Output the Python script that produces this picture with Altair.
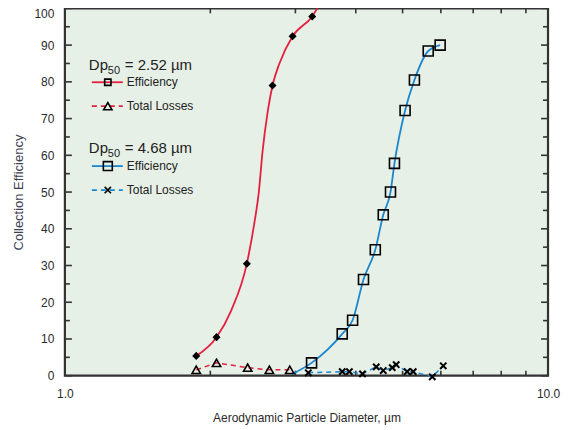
import altair as alt
import pandas as pd

FONT = "Liberation Sans"
RED = "#E3203F"
BLUE = "#1B87CF"

# ---- data ----
# Dp50 = 2.52 µm : efficiency points and fitted curve
red_eff_d = [1.87, 2.06, 2.38, 2.69, 2.96, 3.25]
red_eff_v = [5.4, 10.5, 30.5, 79.0, 92.4, 97.8]
red_fit_d = [1.87, 2.06, 2.21, 2.38, 2.47, 2.52, 2.565, 2.63, 2.69, 2.78, 2.96, 3.25, 3.33]
red_fit_v = [5.4, 10.5, 17.8, 30.5, 42.0, 50.0, 61.0, 72.0, 79.0, 85.0, 92.4, 97.8, 100.0]
red_loss_d = [1.87, 2.06, 2.39, 2.65, 2.92]
red_loss_v = [1.6, 3.5, 2.2, 1.6, 1.6]

# Dp50 = 4.68 µm : efficiency points and curve
blue_eff_d = [3.24, 3.75, 3.94, 4.15, 4.39, 4.56, 4.72, 4.81, 5.06, 5.29, 5.65, 5.98]
blue_eff_v = [3.5, 11.4, 15.1, 26.2, 34.3, 43.8, 50.0, 57.8, 72.2, 80.5, 88.4, 90.0]
blue_fit_d = [2.95, 3.24, 3.75, 3.94, 4.15, 4.39, 4.56, 4.72, 4.81, 5.06, 5.29, 5.65, 5.98]
blue_fit_v = [0.4, 3.5, 11.4, 15.1, 26.2, 34.3, 43.8, 50.0, 57.8, 72.2, 80.5, 88.4, 90.0]
blue_loss_d = [3.19, 3.75, 3.88, 4.13, 4.41, 4.56, 4.76, 4.85, 5.11, 5.26, 5.76, 6.07]
blue_loss_v = [0.8, 1.1, 1.1, 0.5, 2.4, 1.4, 2.2, 3.0, 1.1, 1.1, -0.3, 2.7]

# axis ticks
y_major = list(range(0, 101, 10))
y_minor = list(range(5, 100, 10))
x_labels = [1, 10]
x_minor = [2, 3, 4, 5, 6, 7, 8, 9]

# legend texts
legend_heads = ["2.52 µm", "4.68 µm"]
legend_items = ["Efficiency", "Total Losses", "Efficiency", "Total Losses"]

W, H = 484, 368

X = alt.X("d:Q", scale=alt.Scale(type="log", domain=[1, 10]),
          axis=alt.Axis(values=x_labels, format=".1f", tickSize=0, domain=False, grid=False,
                        labelPadding=13, titlePadding=13, labelFontSize=12, titleFontSize=12,
                        labelColor="#2a2a2a", titleColor="#2a2a2a", labelFont=FONT, titleFont=FONT,
                        titleFontWeight="normal", labelFlush=False),
          title="Aerodynamic Particle Diameter, µm")
Y = alt.Y("v:Q", scale=alt.Scale(domain=[0, 100]),
          axis=alt.Axis(values=y_major, tickSize=0, domain=False, grid=False,
                        labelPadding=11, titlePadding=8, labelFontSize=12, titleFontSize=13,
                        labelBaseline={"condition": {"test": "datum.value == 100", "value": "top"},
                                       "value": "middle"},
                        labelColor="#2a2a2a", titleColor="#3a4050", labelFont=FONT, titleFont=FONT,
                        titleFontWeight="normal"),
          title="Collection Efficiency")


def df(d, v):
    return pd.DataFrame({"d": d, "v": v})


red_fit = alt.Chart(df(red_fit_d, red_fit_v)).mark_line(
    color=RED, strokeWidth=1.8, interpolate="monotone").encode(x=X, y=Y, order="d:Q")
red_pts = alt.Chart(df(red_eff_d, red_eff_v)).mark_point(
    shape="diamond", filled=True, color="black", size=65, opacity=1).encode(x=X, y=Y)
red_loss_line = alt.Chart(df(red_loss_d, red_loss_v)).mark_line(
    color=RED, strokeWidth=1.5, strokeDash=[5, 4]).encode(x=X, y=Y)
red_loss_pts = alt.Chart(df(red_loss_d, red_loss_v)).mark_point(
    shape="triangle-up", color="black", strokeWidth=1.6, size=70, opacity=1).encode(x=X, y=Y)

blue_fit = alt.Chart(df(blue_fit_d, blue_fit_v)).mark_line(
    color=BLUE, strokeWidth=1.8, interpolate="monotone").encode(x=X, y=Y, order="d:Q")
blue_pts = alt.Chart(df(blue_eff_d, blue_eff_v)).mark_point(
    shape="square", color="black", strokeWidth=1.6, size=100, opacity=1).encode(x=X, y=Y)
blue_loss_line = alt.Chart(df(blue_loss_d, blue_loss_v)).mark_line(
    color=BLUE, strokeWidth=1.5, strokeDash=[5, 4]).encode(x=X, y=Y)
XSHAPE = "M-1,-1L1,1M-1,1L1,-1"
blue_loss_pts = alt.Chart(df(blue_loss_d, blue_loss_v)).mark_point(
    shape=XSHAPE, color="black", strokeWidth=2, size=40, opacity=1).encode(x=X, y=Y)

# inward ticks
ymaj = pd.DataFrame({"v": y_major})
ymin = pd.DataFrame({"v": y_minor})
xmin = pd.DataFrame({"d": x_minor})
tick_style = dict(color="#333", strokeWidth=1.6)
ticks = [
    alt.Chart(ymaj).mark_rule(**tick_style).encode(y=Y, x=alt.value(0), x2=alt.value(7)),
    alt.Chart(ymin).mark_rule(**tick_style).encode(y=Y, x=alt.value(0), x2=alt.value(5)),
    alt.Chart(ymaj).mark_rule(**tick_style).encode(y=Y, x=alt.value(W), x2=alt.value(W - 7)),
    alt.Chart(ymin).mark_rule(**tick_style).encode(y=Y, x=alt.value(W), x2=alt.value(W - 5)),
    alt.Chart(xmin).mark_rule(**tick_style).encode(x=X, y=alt.value(H), y2=alt.value(H - 5)),
    alt.Chart(xmin).mark_rule(**tick_style).encode(x=X, y=alt.value(0), y2=alt.value(5)),
]

# ---- legend (inside plot, top-left) ----
head_y = [62, 145]
row_y = [74, 98, 158, 182]
heads_dp = alt.Chart(pd.DataFrame({"y": head_y, "t": ["Dp", "Dp"]})).mark_text(
    align="left", baseline="alphabetic", font=FONT, fontSize=15, color="#222").encode(
    x=alt.value(24), y=alt.Y("y:Q", scale=None), text="t:N")
heads_sub = alt.Chart(pd.DataFrame({"y": [y + 4 for y in head_y], "t": ["50", "50"]})).mark_text(
    align="left", baseline="alphabetic", font=FONT, fontSize=11, color="#222").encode(
    x=alt.value(43), y=alt.Y("y:Q", scale=None), text="t:N")
heads_val = alt.Chart(pd.DataFrame({"y": head_y, "t": ["= " + h for h in legend_heads]})).mark_text(
    align="left", baseline="alphabetic", font=FONT, fontSize=15, color="#222").encode(
    x=alt.value(60), y=alt.Y("y:Q", scale=None), text="t:N")
item_text = alt.Chart(pd.DataFrame({"y": row_y, "t": legend_items})).mark_text(
    align="left", baseline="middle", font=FONT, fontSize=12, color="#222").encode(
    x=alt.value(62), y=alt.Y("y:Q", scale=None), text="t:N")


def leg_line(yv, color, dash):
    kw = dict(color=color, strokeWidth=1.8)
    if dash:
        kw["strokeDash"] = [5, 4]
    return alt.Chart(pd.DataFrame({"y": [yv]})).mark_rule(**kw).encode(
        x=alt.value(27), x2=alt.value(58), y=alt.Y("y:Q", scale=None))


def leg_mark(yv, shape, size, filled=False):
    return alt.Chart(pd.DataFrame({"y": [yv]})).mark_point(
        shape=shape, color="black", strokeWidth=1.6, size=size, opacity=1, filled=filled).encode(
        x=alt.value(43), y=alt.Y("y:Q", scale=None))


legend = [
    leg_line(row_y[0], RED, False), leg_mark(row_y[0], "square", 40),
    leg_line(row_y[1], RED, True), leg_mark(row_y[1], "triangle-up", 70),
    leg_line(row_y[2], BLUE, False), leg_mark(row_y[2], "square", 80),
    leg_line(row_y[3], BLUE, True), leg_mark(row_y[3], XSHAPE, 40),
    heads_dp, heads_sub, heads_val, item_text,
]

chart = alt.layer(
    *ticks,
    red_loss_line, blue_loss_line, red_fit, blue_fit,
    red_loss_pts, blue_loss_pts, red_pts, blue_pts,
    *legend,
).properties(
    width=W, height=H,
    autosize=alt.AutoSizeParams(type="none"),
    padding={"left": 57, "top": 0, "right": 14, "bottom": 50},
).configure_view(fill="#E7F0E7", stroke="#333", strokeWidth=2.2)

chart.save("out.html", embed_options={"renderer": "svg", "actions": False})
